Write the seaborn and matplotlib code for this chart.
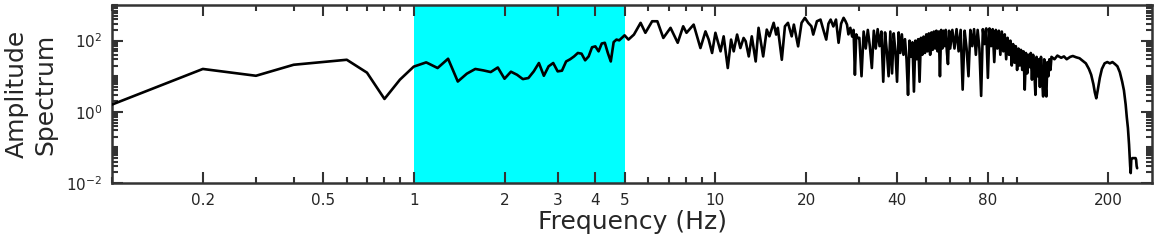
import numpy as np
import pandas as pd
import matplotlib
matplotlib.use("Agg")
import matplotlib.pyplot as plt
import matplotlib.ticker as mticker
import seaborn as sns

# --- data (Hz, amplitude) ---
# 0.1 - 5.0 Hz, one value per 0.1 Hz
freq_low = np.round(np.arange(0.1, 5.05, 0.1), 1)
amp_low = [1.6, 16, 10.3, 21, 25, 29, 12.6, 2.3, 8, 18.6,
           24.5, 17, 31, 7.1, 11.8, 16, 14.6, 13.1, 17.6, 8.5,
           13.4, 11, 8.3, 8.9, 13.7, 23.5, 10.3, 19, 23.5, 13.7,
           14.3, 26, 30, 36, 45, 43, 28, 36, 65, 69,
           50, 83, 87, 45, 26, 91, 107, 102, 120, 141]

# 5 - 30 Hz, peaks and dips
freq_mid = [5.15, 5.37, 5.65, 5.86, 6.17, 6.42, 6.72, 7.10, 7.50, 7.82,
            8.02, 8.47, 8.92, 9.27, 9.50, 9.75, 10.0, 10.4, 10.65, 10.99,
            11.27, 11.5, 11.8, 12.1, 12.4, 12.6, 12.9, 13.2, 13.6, 13.9,
            14.4, 14.8, 15.1, 15.6, 15.9, 16.1, 16.6, 17.0, 17.4, 17.9,
            18.2, 18.8, 19.3, 19.8, 20.3, 20.8, 21.1, 21.7, 22.3, 22.8,
            23.3, 23.7, 24.1, 24.6, 25.1, 25.6, 26.1, 26.6, 27.0, 27.3,
            27.6, 28.0, 28.4, 28.7, 29.0, 29.3, 29.6]
amp_mid = [107, 148, 316, 166, 350, 350, 119, 229, 87, 253,
           166, 282, 62, 182, 107, 45, 166, 50, 132, 17,
           107, 50, 148, 62, 119, 96, 36, 132, 26, 229,
           36, 204, 132, 316, 148, 229, 29, 253, 316, 132,
           282, 69, 316, 437, 316, 253, 148, 350, 390, 200,
           107, 300, 390, 250, 390, 87, 300, 437, 350, 282,
           150, 229, 130, 200, 11, 150, 119]

# 30 - 60 Hz, dense band, every 0.5 Hz
freq_band = np.round(np.arange(30.0, 60.25, 0.5), 1)
amp_band = [120, 10, 180, 60, 200, 70, 17, 190, 60, 210,
            70, 180, 7, 170, 50, 10, 180, 12, 160, 50,
            7, 170, 45, 150, 40, 110, 30, 3, 100, 35,
            90, 3.7, 100, 30, 110, 7, 120, 40, 130, 45,
            150, 50, 160, 40, 170, 55, 180, 60, 190, 50,
            180, 10, 200, 60, 190, 70, 200, 50, 22, 190,
            60]

# 61 - 130 Hz, every 1 Hz
freq_hi = np.arange(61, 131, 1)
amp_hi = [200, 60, 210, 50, 200, 4.2, 190, 60, 10, 200,
          70, 210, 40, 200, 60, 2.8, 210, 80, 220, 9,
          220, 70, 210, 25, 200, 60, 190, 40, 180, 50,
          150, 30, 120, 40, 100, 20, 80, 24, 70, 15,
          60, 20, 55, 15, 50, 4.2, 45, 12, 40, 18,
          45, 8, 40, 15, 3, 35, 10, 30, 5, 35,
          8, 2.7, 30, 6, 2.7, 25, 10, 30, 15, 35]

# 133 - 250 Hz, smooth tail
freq_tail = [133, 136, 140, 143, 146, 150, 153, 157, 161, 165,
             169, 173, 176, 179, 181, 183, 185, 188, 191, 195,
             199, 203, 207, 211, 215, 219, 223, 226, 229, 231,
             233, 235, 236, 237, 238, 239, 241, 244, 247, 248,
             249, 250]
amp_tail = [30, 38, 33, 36, 30, 35, 37, 34, 32, 27,
            23, 16, 11, 6, 3.5, 2.4, 4, 9, 16, 23,
            25, 23, 25, 22, 19, 13, 7, 4, 1.6, 0.7,
            0.35, 0.12, 0.06, 0.03, 0.019, 0.045, 0.05, 0.05, 0.05, 0.045,
            0.03, 0.026]

band_lo, band_hi = 1, 5
xticks = [0.2, 0.5, 1, 2, 3, 4, 5, 10, 20, 40, 80, 200]
xticklabels = ["0.2", "0.5", "1", "2", "3", "4", "5", "10", "20", "40", "80", "200"]
yticks = [1e-2, 1e0, 1e2]

df = pd.DataFrame({
    "freq": np.concatenate([freq_low, freq_mid, freq_band, freq_hi, freq_tail]),
    "amp": np.concatenate([amp_low, amp_mid, amp_band, amp_hi, amp_tail]),
})

sns.set_theme(style="white")
plt.rcParams["font.family"] = ["DejaVu Sans"]
txt = "#262626"

fig = plt.figure(figsize=(11.62, 2.4), dpi=100)
ax = fig.add_axes([0.0964, 0.2375, 0.895, 0.7415])

ax.axvspan(band_lo, band_hi, color="#00FFFF", lw=0, zorder=0)
sns.lineplot(data=df, x="freq", y="amp", ax=ax, color="black", lw=1.9,
             estimator=None, sort=False, zorder=3)

ax.set_xscale("log")
ax.set_yscale("log")
ax.set_xlim(0.1, 280)
ax.set_ylim(1e-2, 1e3)

ax.xaxis.set_major_locator(mticker.FixedLocator(xticks))
ax.xaxis.set_major_formatter(mticker.FixedFormatter(xticklabels))
ax.xaxis.set_minor_locator(mticker.LogLocator(base=10, subs=np.arange(1, 10), numticks=20))
ax.xaxis.set_minor_formatter(mticker.NullFormatter())
ax.yaxis.set_major_locator(mticker.FixedLocator(yticks))
ax.yaxis.set_major_formatter(mticker.LogFormatterMathtext())
ax.yaxis.set_minor_locator(mticker.LogLocator(base=10, subs=np.arange(1, 10), numticks=20))
ax.yaxis.set_minor_formatter(mticker.NullFormatter())

ax.tick_params(which="both", direction="in", top=True, right=True,
               bottom=True, left=True,
               color="#333333", width=1.5, labelsize=11, labelcolor=txt)
ax.tick_params(which="major", length=8, pad=7)
ax.tick_params(which="minor", length=4)
for s in ax.spines.values():
    s.set_color("#333333")
    s.set_linewidth(1.8)

ax.set_xlabel("Frequency (Hz)", fontsize=18, color=txt, labelpad=2)
ax.set_ylabel("Amplitude\nSpectrum", fontsize=18, color=txt, labelpad=6, linespacing=1.25)

fig.savefig("out.png", dpi=100)
